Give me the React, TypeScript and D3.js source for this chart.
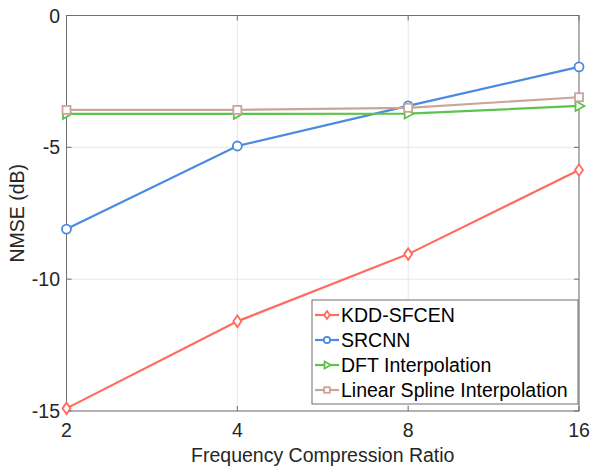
import React from "react";
import * as d3 from "d3";

const ratios = ["2", "4", "8", "16"];
const kdd = [-14.9, -11.6, -9.05, -5.86];
const srcnn = [-8.1, -4.95, -3.43, -1.95];
const dft = [-3.73, -3.73, -3.72, -3.43];
const spline = [-3.58, -3.58, -3.5, -3.1];
const yTicks = [0, -5, -10, -15];

const seriesNames = ["KDD-SFCEN", "SRCNN", "DFT Interpolation", "Linear Spline Interpolation"];
const seriesData = [kdd, srcnn, dft, spline];
const colors = ["#FF6B5E", "#4A8ADF", "#5DC44B", "#C9A59C"];
const markers = ["diamond", "circle", "triangle", "square"];

const W = 591, H = 466;
const L = 66.5, R = 579, T = 15.5, B = 411;
const FONT = "Liberation Sans, Arial, Helvetica, sans-serif";
const FS = 19.5;

function Marker({ type, x, y, color, s = 5 }: any) {
  const common = { fill: "white", stroke: color, strokeWidth: 1.8 };
  if (type === "circle") return <circle cx={x} cy={y} r={s * 0.9} {...common} />;
  if (type === "square") return <rect x={x - s * 0.8} y={y - s * 0.8} width={s * 1.6} height={s * 1.6} {...common} />;
  if (type === "diamond")
    return <path d={`M${x},${y - s * 1.15}L${x + s * 0.8},${y}L${x},${y + s * 1.15}L${x - s * 0.8},${y}Z`} {...common} />;
  return <path d={`M${x + s * 1.1},${y}L${x - s * 0.7},${y - s}L${x - s * 0.7},${y + s}Z`} {...common} />;
}

export default function App() {
  const x = d3.scalePoint<string>().domain(ratios).range([L, R]);
  const y = d3.scaleLinear().domain([-15, 0]).range([B, T]);
  const line = d3.line<number>().x((_, i) => x(ratios[i])!).y((d) => y(d));
  const lx = 312, ly = 300, lw = 266, lh = 104;
  const rowH = 25;
  return (
    <svg width={W} height={H} style={{ position: "absolute", left: 0, top: 0, background: "white" }} fontFamily={FONT}>
      <rect width={W} height={H} fill="white" />
      {ratios.map((r) => (
        <line key={"gx" + r} x1={x(r)} x2={x(r)} y1={T} y2={B} stroke="#e6e6e6" strokeWidth={1} />
      ))}
      {yTicks.map((t) => (
        <line key={"gy" + t} x1={L} x2={R} y1={y(t)} y2={y(t)} stroke="#e6e6e6" strokeWidth={1} />
      ))}
      <rect x={L} y={T} width={R - L} height={B - T} fill="none" stroke="#6e6e6e" strokeWidth={1} />
      {ratios.map((r) => (
        <g key={"tx" + r}>
          <line x1={x(r)} x2={x(r)} y1={B} y2={B - 5} stroke="#6e6e6e" />
          <line x1={x(r)} x2={x(r)} y1={T} y2={T + 5} stroke="#6e6e6e" />
          <text x={x(r)} y={B + 26} textAnchor="middle" fontSize={FS} fill="#262626">{r}</text>
        </g>
      ))}
      {yTicks.map((t) => (
        <g key={"ty" + t}>
          <line x1={L} x2={L + 5} y1={y(t)} y2={y(t)} stroke="#6e6e6e" />
          <line x1={R} x2={R - 5} y1={y(t)} y2={y(t)} stroke="#6e6e6e" />
          <text x={L - 6.5} y={y(t) + 7} textAnchor="end" fontSize={FS} fill="#262626">{t}</text>
        </g>
      ))}
      {seriesData.map((d, si) => (
        <g key={"s" + si}>
          <path d={line(d)!} fill="none" stroke={colors[si]} strokeWidth={2.2} />
          {d.map((v, i) => (
            <Marker key={i} type={markers[si]} x={x(ratios[i])} y={y(v)} color={colors[si]} />
          ))}
        </g>
      ))}
      <text x={(L + R) / 2} y={H - 4} textAnchor="middle" fontSize={FS} fill="#262626">Frequency Compression Ratio</text>
      <text transform={`translate(24,${(T + B) / 2}) rotate(-90)`} textAnchor="middle" fontSize={FS} fill="#262626">NMSE (dB)</text>
      <rect x={lx} y={ly} width={lw} height={lh} fill="white" stroke="#6e6e6e" strokeWidth={1} />
      {seriesNames.map((n, i) => {
        const cy = ly + 15 + i * rowH;
        return (
          <g key={"l" + i}>
            <line x1={lx + 3} x2={lx + 27} y1={cy} y2={cy} stroke={colors[i]} strokeWidth={2.2} />
            <Marker type={markers[i]} x={lx + 15} y={cy} color={colors[i]} s={3.5} />
            <text x={lx + 29} y={cy + 7} fontSize={FS} fill="#000">{n}</text>
          </g>
        );
      })}
    </svg>
  );
}
